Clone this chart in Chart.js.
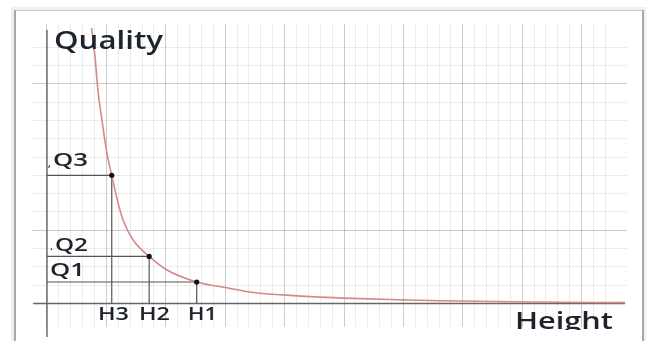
<!DOCTYPE html>
<html>
<head>
<meta charset="utf-8">
<script src="https://cdn.jsdelivr.net/npm/chart.js@4/dist/chart.umd.min.js"></script>
<style>
html,body{margin:0;padding:0;background:#fff;overflow:hidden;}
canvas{display:block;}
</style>
</head>
<body>
<canvas id="c" width="647" height="341"></canvas>
<script>
// ---- data (x in major grid units, y in minor grid units) ----
const curveX = [0.75, 0.81, 0.86, 0.92, 1.005, 1.09, 1.17, 1.28, 1.45, 1.72, 2.02, 2.52, 3.05, 3.47, 3.97, 4.60, 5.15, 6.00, 6.62, 8.13, 9.73];
const curveY = [15.05, 13.42, 11.56, 10.14, 8.28, 7.0, 5.84, 4.56, 3.47, 2.57, 1.83, 1.175, 0.85, 0.60, 0.47, 0.35, 0.28, 0.20, 0.15, 0.08, 0.05];
const markX = [1.09, 1.72, 2.52];        // H3, H2, H1
const markY = [7.0, 2.57, 1.175];        // Q3, Q2, Q1
const qLabels = ['Q3', 'Q2', 'Q1'];
const hLabels = ['H3', 'H2', 'H1'];
const yAxisTitle = 'Quality';
const xAxisTitle = 'Height';

// ---- derived structures ----
const curveData = curveX.map((x, i) => ({x: x, y: curveY[i]}));
const markData = markX.map((x, i) => ({x: x, y: markY[i]}));
const guideSets = [];
markX.forEach((x, i) => {
  guideSets.push({data: [{x: 0, y: markY[i]}, {x: x, y: markY[i]}]});
  guideSets.push({data: [{x: x, y: markY[i]}, {x: x, y: 0}]});
});

const XMIN = -0.2525, XMAX = 9.764, YMIN = -1.284, YMAX = 15.27;

function keepSteps(scale, step) {
  scale.ticks = scale.ticks.filter(t => {
    const r = t.value / step;
    return Math.abs(r - Math.round(r)) < 1e-6;
  });
}

function stretchText(ctx, text, left, baseline, size, width, weight) {
  ctx.save();
  ctx.font = weight + ' ' + size + 'px "Open Sans", "Noto Sans", sans-serif';
  const w = ctx.measureText(text).width;
  ctx.translate(left, baseline);
  ctx.scale(width / w, 1);
  ctx.fillText(text, 0, 0);
  ctx.restore();
}

const framePlugin = {
  id: 'frame',
  beforeDraw(chart) {
    const ctx = chart.ctx;
    ctx.save();
    ctx.fillStyle = '#fff';
    ctx.fillRect(0, 0, chart.width, chart.height);
    ctx.strokeStyle = 'rgba(0,0,0,0.06)';
    ctx.lineWidth = 4;
    ctx.strokeRect(13, 9, 631, 340);
    ctx.strokeStyle = '#c9c9c9';
    ctx.lineWidth = 1;
    ctx.beginPath(); ctx.moveTo(14, 10.5); ctx.lineTo(643, 10.5); ctx.stroke();
    ctx.strokeStyle = '#a8a8a8';
    ctx.lineWidth = 2;
    ctx.beginPath(); ctx.moveTo(15, 10); ctx.lineTo(15, 341); ctx.stroke();
    ctx.beginPath(); ctx.moveTo(643, 10); ctx.lineTo(643, 341); ctx.stroke();
    ctx.restore();
  }
};

const textPlugin = {
  id: 'texts',
  afterDraw(chart) {
    const ctx = chart.ctx;
    ctx.save();
    ctx.fillStyle = '#1d232b';
    ctx.textBaseline = 'alphabetic';
    stretchText(ctx, yAxisTitle, 54, 49, 25, 109, 600);
    const qPos = [[53, 166, 35], [55, 251, 33], [50, 276, 35]];
    qLabels.forEach((t, i) => stretchText(ctx, t, qPos[i][0], qPos[i][1], 18.5, qPos[i][2], 600));
    ctx.font = '600 10px "Open Sans", sans-serif';
    ctx.fillText(',', 48, 167);
    ctx.fillText('.', 50, 250);
    const hPos = [[98, 320, 31], [139, 320, 31], [188, 320, 29]];
    hLabels.forEach((t, i) => stretchText(ctx, t, hPos[i][0], hPos[i][1], 18.5, hPos[i][2], 600));
    ctx.save();
    ctx.beginPath(); ctx.rect(0, 0, 647, 330); ctx.clip();
    stretchText(ctx, xAxisTitle, 515, 329, 22.5, 98, 600);
    ctx.restore();
    ctx.restore();
  }
};

const datasets = [
  {data: markData, showLine: false, pointRadius: 2.6, pointBackgroundColor: '#111', pointBorderColor: '#111', pointBorderWidth: 0, order: 0},
  {data: curveData, borderColor: '#d48a8a', borderWidth: 1.6, pointRadius: 0, cubicInterpolationMode: 'monotone', order: 1, clip: false},
];
guideSets.forEach(g => datasets.push({data: g.data, borderColor: '#555', borderWidth: 1.2, pointRadius: 0, order: 2}));
datasets.push({data: [{x: 0, y: YMIN - 0.55}, {x: 0, y: 14.95}], borderColor: '#666', borderWidth: 1.4, pointRadius: 0, order: 3, clip: false});
datasets.push({data: [{x: XMIN + 0.02, y: 0}, {x: 9.73, y: 0}], borderColor: '#666', borderWidth: 1.4, pointRadius: 0, order: 3, clip: false});

new Chart(document.getElementById('c'), {
  type: 'line',
  data: {datasets: datasets},
  plugins: [framePlugin, textPlugin],
  options: {
    responsive: false,
    animation: false,
    devicePixelRatio: 1,
    layout: {padding: {left: 32, top: 24, right: 20, bottom: 14}},
    plugins: {legend: {display: false}, tooltip: {enabled: false}},
    scales: {
      x: {
        type: 'linear', min: XMIN, max: XMAX,
        ticks: {display: false, stepSize: 0.2},
        afterBuildTicks: s => keepSteps(s, 0.2),
        border: {display: false},
        grid: {
          drawTicks: false,
          lineWidth: 1,
          color: c => {
            const v = c.tick.value;
            return Math.abs(v - Math.round(v)) < 1e-6 ? 'rgba(0,0,0,0.2)' : 'rgba(0,0,0,0.075)';
          }
        }
      },
      y: {
        type: 'linear', min: YMIN, max: YMAX,
        ticks: {display: false, stepSize: 1},
        afterBuildTicks: s => keepSteps(s, 1),
        border: {display: false},
        grid: {
          drawTicks: false,
          lineWidth: 1,
          color: c => {
            const v = Math.round(c.tick.value);
            return (v === 4 || v === 12) ? 'rgba(0,0,0,0.2)' : 'rgba(0,0,0,0.075)';
          }
        }
      }
    }
  }
});
</script>
</body>
</html>
